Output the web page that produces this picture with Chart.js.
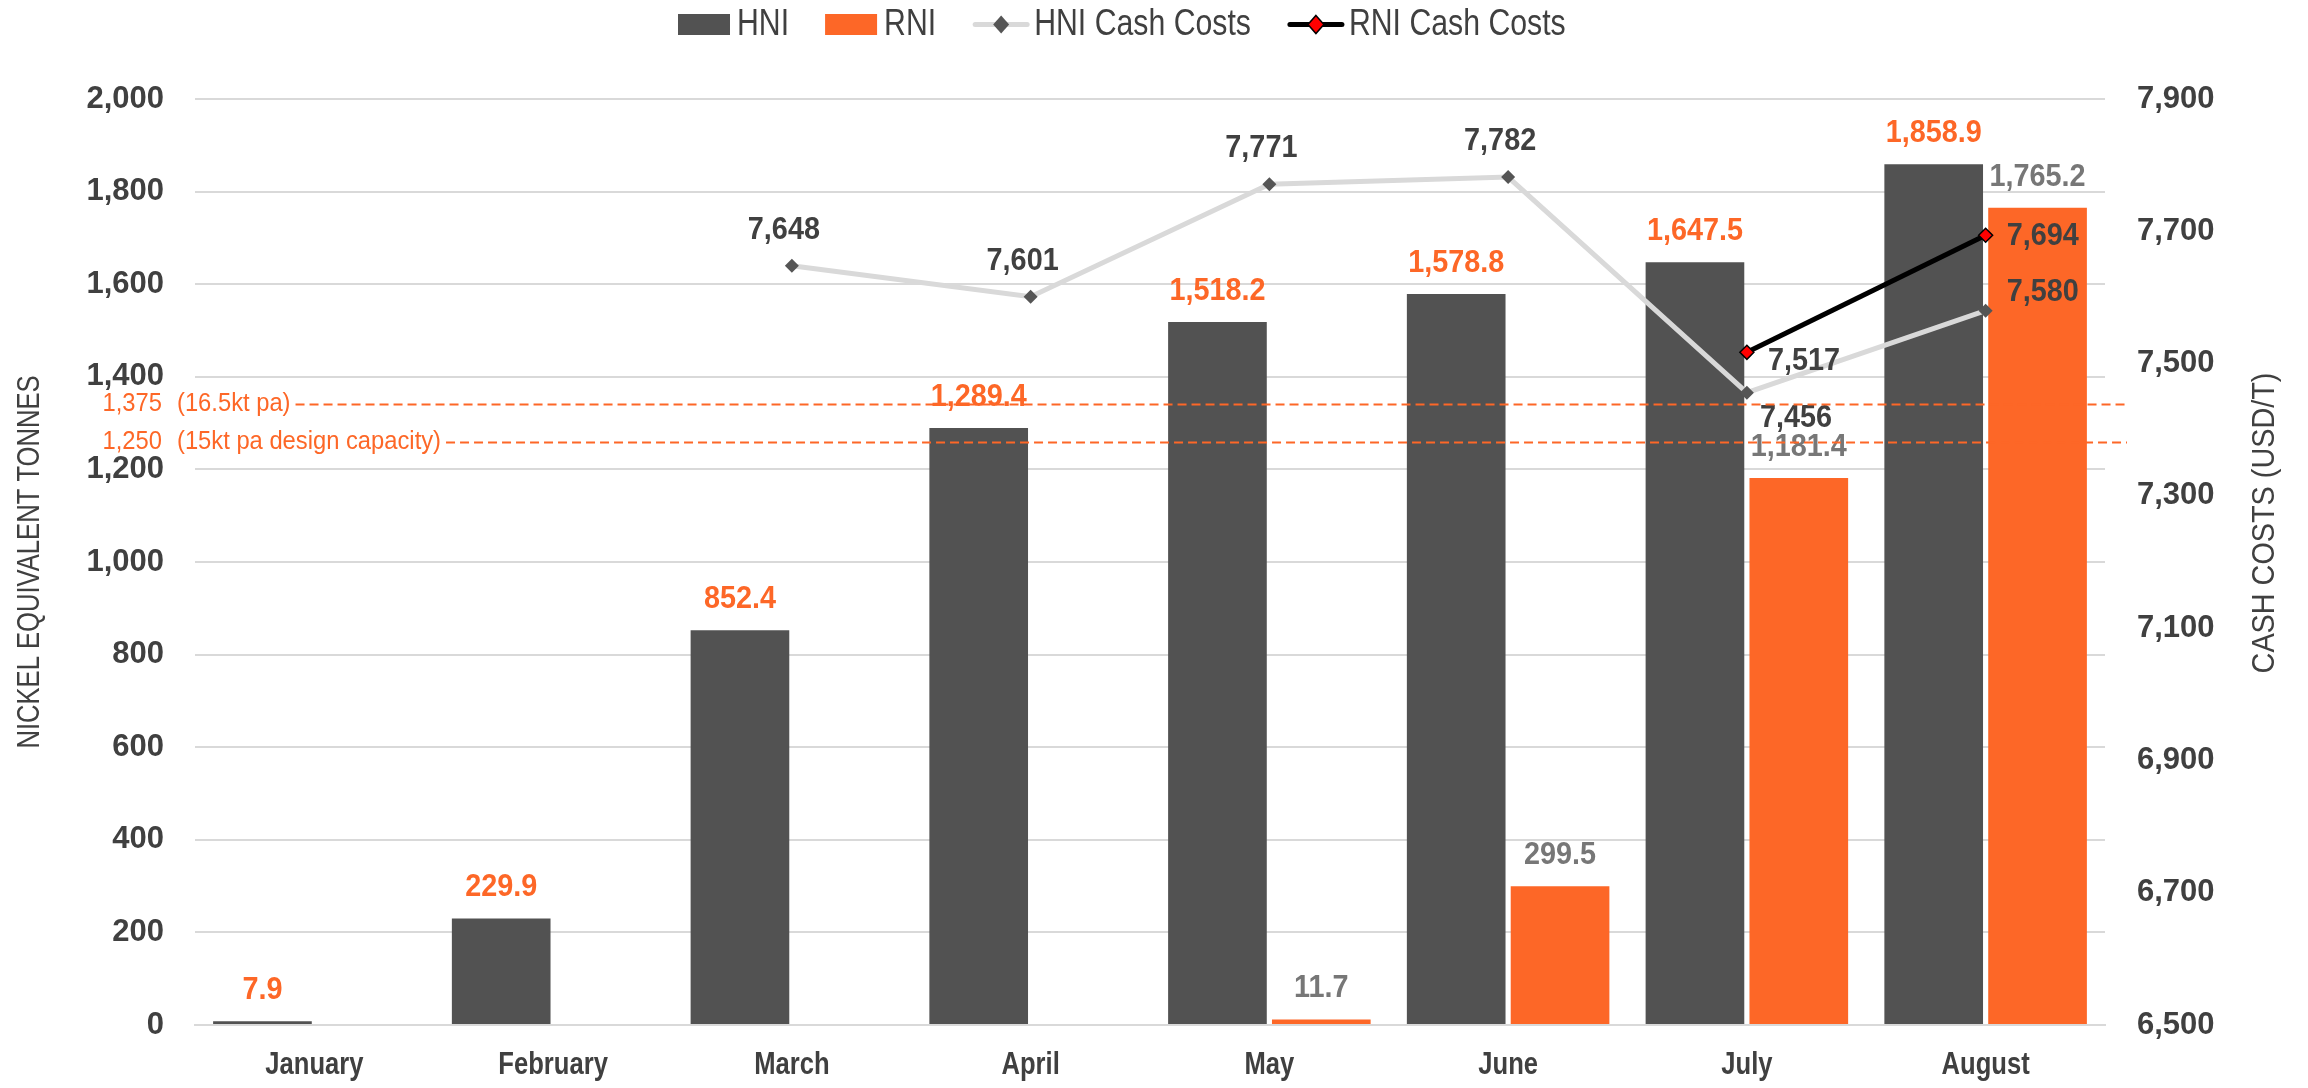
<!DOCTYPE html>
<html><head><meta charset="utf-8">
<script src="https://cdn.jsdelivr.net/npm/chart.js@4.4.1/dist/chart.umd.min.js"></script>
<style>html,body{margin:0;padding:0;background:#fff}#wrap{width:2308px;height:1088px}</style>
</head><body><div id="wrap"><canvas id="c" width="2308" height="1088"></canvas></div>
<script>
const categories = ['January','February','March','April','May','June','July','August'];
const hniTonnes = [7.9, 229.9, 852.4, 1289.4, 1518.2, 1578.8, 1647.5, 1858.9];
const rniTonnes = [null, null, null, null, 11.7, 299.5, 1181.4, 1765.2];
const hniCashCosts = [null, null, 7648, 7601, 7771, 7782, 7456, 7580];
const rniCashCosts = [null, null, null, null, null, null, 7517, 7694];
const seriesNames = ['HNI', 'RNI', 'HNI Cash Costs', 'RNI Cash Costs'];
const leftAxisRange = [0, 2000, 200];
const rightAxisRange = [6500, 7900, 200];
const capacityValues = [1340, 1258];            // positions as drawn, on the left axis
const capacityNumbers = ['1,375', '1,250'];
const capacityNotes = ['(16.5kt pa)', '(15kt pa design capacity)'];
const leftTitle = 'NICKEL EQUIVALENT TONNES';
const rightTitle = 'CASH COSTS (USD/T)';

const ORANGE = '#FD6727', DARK = '#525252', TXT = '#404040', GRAYLBL = '#777777';
const SANS = '"Liberation Sans", Arial, sans-serif';

function fmt(v, d){ const s = v.toFixed(d || 0); const p = s.split('.'); return p[0].replace(/\B(?=(\d{3})+(?!\d))/g, ',') + (p[1] ? '.' + p[1] : ''); }

// draws text horizontally condensed by factor sx; returns drawn width
function condText(ctx, txt, x, y, align, font, sx){
  ctx.save();
  ctx.font = font;
  const w = ctx.measureText(txt).width * sx;
  const left = align === 'center' ? x - w / 2 : (align === 'right' ? x - w : x);
  ctx.translate(left, y);
  ctx.scale(sx, 1);
  ctx.textAlign = 'left';
  ctx.textBaseline = 'middle';
  ctx.fillText(txt, 0, 0);
  ctx.restore();
  return w;
}

const LABEL_FONT = 'bold 32px ' + SANS, LABEL_SX = 0.9;

// label placement for cash-cost points (dataset-index, point-index) -> offset style
const cashLabelPlacement = {
  '2-6': {dx: 13, dy: 25, align: 'left'},
  '2-7': {dx: 21, dy: -18, align: 'left'},
  '3-6': {dx: 21, dy: 9, align: 'left'},
  '3-7': {dx: 21, dy: 1, align: 'left'}
};

const overlayPlugin = {
  id: 'overlay',
  afterDatasetsDraw(chart){
    const ctx = chart.ctx;
    ctx.save();
    // bar value labels
    const barColors = [ORANGE, GRAYLBL];
    [0, 1].forEach(di => {
      const meta = chart.getDatasetMeta(di);
      const src = chart.data.datasets[di].data;
      ctx.fillStyle = barColors[di];
      meta.data.forEach((el, i) => {
        if (src[i] == null) return;
        condText(ctx, fmt(src[i], 1), el.x, el.y - 31, 'center', LABEL_FONT, LABEL_SX);
      });
    });
    // cash cost labels
    [2, 3].forEach(di => {
      const meta = chart.getDatasetMeta(di);
      const src = chart.data.datasets[di].data;
      ctx.fillStyle = TXT;
      meta.data.forEach((el, i) => {
        if (src[i] == null) return;
        const p = cashLabelPlacement[di + '-' + i];
        if (p) condText(ctx, fmt(src[i]), el.x + p.dx, el.y + p.dy, p.align, LABEL_FONT, LABEL_SX);
        else condText(ctx, fmt(src[i]), el.x - 8, el.y - 36, 'center', LABEL_FONT, LABEL_SX);
      });
    });
    ctx.restore();
  },
  afterDraw(chart){
    const ctx = chart.ctx;
    const ys = chart.scales.y, xs = chart.scales.x;
    const area = chart.chartArea;
    ctx.save();
    // category labels
    ctx.fillStyle = TXT;
    categories.forEach((c, i) => {
      condText(ctx, c, xs.getPixelForTick(i), area.bottom + 40, 'center', 'bold 32px ' + SANS, 0.8);
    });
    // capacity reference lines
    ctx.fillStyle = ORANGE;
    ctx.strokeStyle = ORANGE;
    capacityValues.forEach((v, i) => {
      const y = ys.getPixelForValue(v);
      condText(ctx, capacityNumbers[i], 162, y, 'right', '25px ' + SANS, 0.95);
      const w = condText(ctx, capacityNotes[i], 177, y, 'left', '25px ' + SANS, 0.95);
      const xStart = 177 + w + 5;
      ctx.lineWidth = 2;
      ctx.setLineDash([9, 5]);
      ctx.beginPath(); ctx.moveTo(xStart, y); ctx.lineTo(area.right + 22, y); ctx.stroke();
    });
    ctx.setLineDash([]);
    // axis titles (both read bottom to top)
    ctx.fillStyle = TXT;
    ctx.save();
    ctx.translate(30, (area.top + area.bottom) / 2);
    ctx.rotate(-Math.PI / 2);
    condText(ctx, leftTitle, 0, 0, 'center', '32px ' + SANS, 0.8);
    ctx.restore();
    ctx.save();
    ctx.translate(2265, 523);
    ctx.rotate(-Math.PI / 2);
    condText(ctx, rightTitle, 0, 0, 'center', '32px ' + SANS, 0.9);
    ctx.restore();
    // legend
    const ds = chart.data.datasets;
    let x = 678;
    const cy = 24.5;
    ds.forEach((d, i) => {
      if (d.type === 'bar') {
        ctx.fillStyle = d.backgroundColor;
        ctx.fillRect(x, 14, 52, 21);
        x += 59;
      } else {
        ctx.lineCap = 'round';
        ctx.strokeStyle = d.borderColor;
        ctx.lineWidth = 5;
        ctx.beginPath(); ctx.moveTo(x + 3, cy); ctx.lineTo(x + 55, cy); ctx.stroke();
        ctx.beginPath();
        ctx.moveTo(x + 29, cy - 9); ctx.lineTo(x + 37, cy); ctx.lineTo(x + 29, cy + 9); ctx.lineTo(x + 21, cy); ctx.closePath();
        ctx.fillStyle = d.pointBackgroundColor; ctx.fill();
        if (d.pointBorderWidth) { ctx.lineWidth = 1.5; ctx.strokeStyle = d.pointBorderColor; ctx.stroke(); }
        x += 62;
      }
      ctx.fillStyle = TXT;
      const w = condText(ctx, d.label, x, cy + 1, 'left', '36px ' + SANS, 0.84);
      x += w + 36;
    });
    ctx.restore();
  }
};

new Chart(document.getElementById('c'), {
  data: {
    labels: categories,
    datasets: [
      {type: 'bar', label: seriesNames[0], data: hniTonnes, backgroundColor: DARK, yAxisID: 'y', order: 3, categoryPercentage: 0.87, barPercentage: 0.95},
      {type: 'bar', label: seriesNames[1], data: rniTonnes, backgroundColor: ORANGE, yAxisID: 'y', order: 3, categoryPercentage: 0.87, barPercentage: 0.95},
      {type: 'line', label: seriesNames[2], data: hniCashCosts, borderColor: '#d9d9d9', borderWidth: 5, pointStyle: 'rectRot', pointRadius: 7, pointHoverRadius: 7, pointBackgroundColor: '#555555', pointBorderColor: '#555555', pointBorderWidth: 0, yAxisID: 'y1', order: 2, tension: 0, spanGaps: false},
      {type: 'line', label: seriesNames[3], data: rniCashCosts, borderColor: '#000000', borderWidth: 5, pointStyle: 'rectRot', pointRadius: 7, pointHoverRadius: 7, pointBackgroundColor: '#ff0000', pointBorderColor: '#000000', pointBorderWidth: 1.5, yAxisID: 'y1', order: 1, tension: 0, spanGaps: false}
    ]
  },
  options: {
    responsive: false, animation: false, devicePixelRatio: 1,
    layout: {padding: {top: 99, left: 0, right: 0, bottom: 0}},
    plugins: {legend: {display: false}, tooltip: {enabled: false}},
    scales: {
      x: {
        grid: {display: false, drawTicks: false},
        border: {display: true, color: '#d9d9d9', width: 2},
        ticks: {display: false},
        afterFit(s){ s.height = 63; }
      },
      y: {
        position: 'left', min: leftAxisRange[0], max: leftAxisRange[1],
        ticks: {stepSize: leftAxisRange[2], padding: 31, color: TXT, font: {family: SANS, size: 31, weight: 'bold'}, callback: v => fmt(v)},
        grid: {color: '#d9d9d9', lineWidth: 2, drawTicks: false},
        border: {display: false},
        afterFit(s){ s.width = 195; }
      },
      y1: {
        position: 'right', min: rightAxisRange[0], max: rightAxisRange[1],
        ticks: {stepSize: rightAxisRange[2], padding: 32, color: TXT, font: {family: SANS, size: 31, weight: 'bold'}, callback: v => fmt(v)},
        grid: {display: false, drawTicks: false},
        border: {display: false},
        afterFit(s){ s.width = 203; }
      }
    }
  },
  plugins: [overlayPlugin]
});
</script>
</body></html>
